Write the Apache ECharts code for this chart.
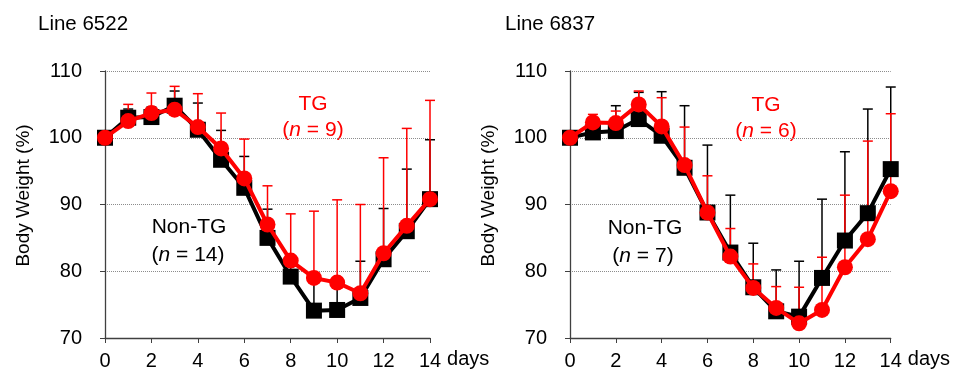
<!DOCTYPE html>
<html>
<head>
<meta charset="utf-8">
<script src="https://cdn.jsdelivr.net/npm/echarts@6/dist/echarts.min.js"></script>
<style>html,body{margin:0;padding:0;background:#fff}#c{width:953px;height:372px}</style>
</head>
<body>
<div id="c"></div>
<script>
const days = [0,1,2,3,4,5,6,7,8,9,10,11,12,13,14];
const xTicks = [0,2,4,6,8,10,12,14];
const yTicks = [70,80,90,100,110];
// Line 6522
const l6522NonTG    = [100,103.0,103.1,104.8,101.2,96.7,92.5,85.0,79.2,74.1,74.2,76.0,81.8,86.0,90.8];
const l6522NonTGTop = [100,104.3,104.6,107.0,105.2,101.1,97.2,89.3,82.3,79.0,78.7,81.5,89.4,95.3,99.7];
const l6522TG       = [100,102.5,103.7,104.2,101.6,98.4,93.9,87.0,81.6,79.0,78.3,76.7,82.7,86.8,90.8];
const l6522TGTop    = [100,105.0,106.7,107.7,106.6,103.7,99.8,92.8,88.6,89.0,90.7,90.0,97.0,101.4,105.6];
// Line 6837
const l6837NonTG    = [100,100.8,101.0,102.8,100.3,95.5,88.8,82.8,77.6,74.0,73.2,79.0,84.6,88.7,95.3];
const l6837NonTGTop = [100,102.0,104.8,106.8,106.9,104.8,98.9,91.4,84.2,80.2,81.5,90.8,97.9,104.3,107.6];
const l6837TG       = [100,102.3,102.2,105.0,101.7,95.9,88.8,82.2,77.5,74.5,72.2,74.2,80.6,84.8,92.0];
const l6837TGTop    = [100,103.5,104.0,107.0,106.0,101.6,94.3,86.4,81.1,77.7,77.6,82.1,91.4,99.5,103.6];

const titles = ['Line 6522','Line 6837'];
const FONT = '"Liberation Sans", Arial, sans-serif';
const RED = '#ff0000', BLACK = '#000000';

function pairs(vals){ return days.map((d,i)=>[d, vals[i]]); }
function errData(vals, tops){ return days.map((d,i)=>[d, vals[i], tops[i]]); }

function errSeries(idx, vals, tops, color, z){
  return {
    type:'custom', xAxisIndex:idx, yAxisIndex:idx, z:z, silent:true,
    data: errData(vals, tops),
    renderItem: function(params, api){
      const x = api.value(0), y = api.value(1), t = api.value(2);
      if (t <= y) return {type:'group', children:[]};
      const p0 = api.coord([x,y]), p1 = api.coord([x,t]);
      const st = {stroke:color, lineWidth:1.5};
      return {type:'group', children:[
        {type:'line', shape:{x1:p0[0],y1:p0[1],x2:p1[0],y2:p1[1]}, style:st},
        {type:'line', shape:{x1:p1[0]-5,y1:p1[1],x2:p1[0]+5,y2:p1[1]}, style:st}
      ]};
    }
  };
}
function lineSeries(idx, vals, color, symbol, z){
  return {
    type:'line', xAxisIndex:idx, yAxisIndex:idx, z:z, data: pairs(vals),
    symbol: symbol, symbolSize: 16,
    lineStyle:{color:color, width:4}, itemStyle:{color:color},
    emphasis:{disabled:true}, animation:false
  };
}

const grids = [
  {left:105, top:71, width:325, height:267},
  {left:570, top:71, width:324, height:267}
];
function xAxis(idx){
  return {
    type:'value', gridIndex:idx, min:xTicks[0], max:xTicks[xTicks.length-1], interval:2,
    name:'days', nameLocation:'end', nameGap:10,
    nameTextStyle:{color:'#000', fontSize:20, fontFamily:FONT, verticalAlign:'top', padding:[11,0,0,0]},
    axisLine:{lineStyle:{color:'#404040', width:1.3}},
    axisTick:{show:true, length:5, lineStyle:{color:'#404040'}},
    axisLabel:{color:'#000', fontSize:20, fontFamily:FONT, margin:13},
    splitLine:{show:false}
  };
}
function yAxis(idx){
  return {
    type:'value', gridIndex:idx, min:yTicks[0], max:yTicks[yTicks.length-1], interval:10,
    name:'Body Weight (%)', nameLocation:'middle', nameGap:72, nameRotate:90,
    nameTextStyle:{color:'#000', fontSize:19, fontFamily:FONT, padding:[0,0,0,18]},
    axisLine:{show:true, lineStyle:{color:'#404040', width:1.3}},
    axisTick:{show:true, length:5, lineStyle:{color:'#404040'}},
    axisLabel:{color:'#000', fontSize:20, fontFamily:FONT, margin:23},
    splitLine:{show:true, lineStyle:{color:'#8c8c8c', type:[1,1], width:1}}
  };
}
function txt(x, y, text, color, rich){
  const style = {x:x, y:y, text:text, fill:color, font:'21px '+FONT, align:'center', verticalAlign:'middle'};
  if (rich) style.rich = {i:{fontStyle:'italic', fontSize:21, fontFamily:FONT, fill:color}};
  return {type:'text', style:style, silent:true};
}

const chart = echarts.init(document.getElementById('c'), null, {renderer:'canvas'});
chart.setOption({
  animation:false,
  backgroundColor:'#fff',
  grid: grids,
  xAxis: [xAxis(0), xAxis(1)],
  yAxis: [yAxis(0), yAxis(1)],
  series: [
    errSeries(0, l6522NonTG, l6522NonTGTop, BLACK, 1),
    errSeries(0, l6522TG, l6522TGTop, RED, 2),
    lineSeries(0, l6522NonTG, BLACK, 'rect', 3),
    lineSeries(0, l6522TG, RED, 'circle', 4),
    errSeries(1, l6837NonTG, l6837NonTGTop, BLACK, 1),
    errSeries(1, l6837TG, l6837TGTop, RED, 2),
    lineSeries(1, l6837NonTG, BLACK, 'rect', 3),
    lineSeries(1, l6837TG, RED, 'circle', 4)
  ],
  graphic: [
    {type:'text', silent:true, style:{x:38, y:24, text:titles[0], fill:'#000', font:'20.5px '+FONT, verticalAlign:'middle'}},
    {type:'text', silent:true, style:{x:505, y:24, text:titles[1], fill:'#000', font:'20.5px '+FONT, verticalAlign:'middle'}},
    txt(313, 104, 'TG', RED),
    txt(313, 130, '({i|n} = 9)', RED, true),
    txt(189, 227, 'Non-TG', BLACK),
    txt(188, 255, '({i|n} = 14)', BLACK, true),
    txt(766, 105, 'TG', RED),
    txt(766, 131, '({i|n} = 6)', RED, true),
    txt(645, 228, 'Non-TG', BLACK),
    txt(643, 256, '({i|n} = 7)', BLACK, true)
  ]
});
</script>
</body>
</html>
